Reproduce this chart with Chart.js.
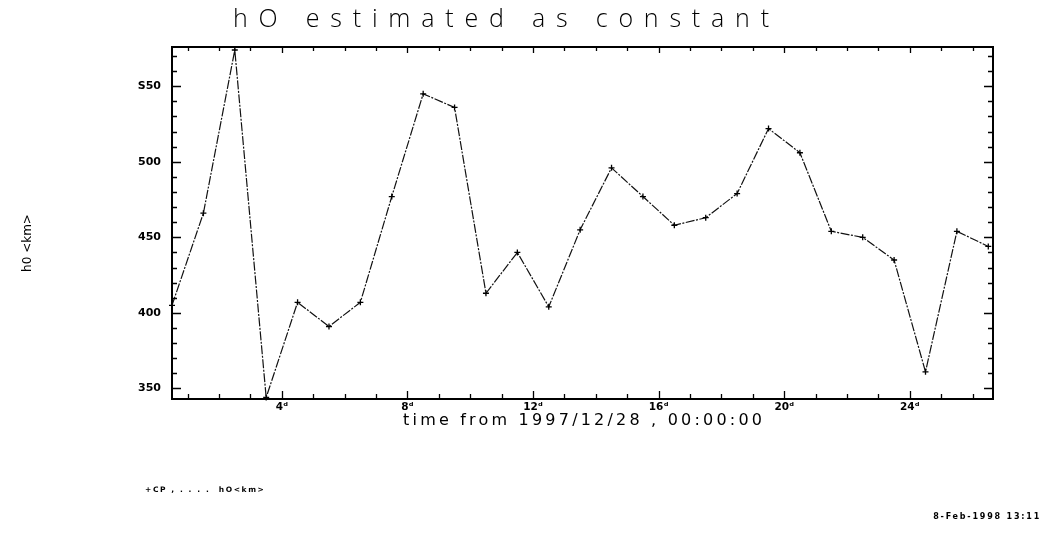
<!DOCTYPE html>
<html>
<head>
<meta charset="utf-8">
<script src="https://cdn.jsdelivr.net/npm/chart.js@4/dist/chart.umd.min.js"></script>
<style>
  html, body { margin: 0; padding: 0; background: #fff; }
  #wrap { width: 1041px; height: 543px; position: relative; }
</style>
</head>
<body>
<div id="wrap"><canvas id="c" width="1041" height="543"></canvas></div>
<script>
// Daily CP estimates of h0, time in days from 1997/12/28 00:00
const days = [0.5, 1.5, 2.5, 3.5, 4.5, 5.5, 6.5, 7.5, 8.5, 9.5, 10.5, 11.5, 12.5, 13.5,
              14.5, 15.5, 16.5, 17.5, 18.5, 19.5, 20.5, 21.5, 22.5, 23.5, 24.5, 25.5, 26.5];
const h0Km = [405, 466, 574, 344, 407, 391, 407, 477, 545, 536, 413, 440, 404, 455,
              496, 477, 458, 463, 479, 522, 506, 454, 450, 435, 361, 454, 444];

const xTickValues = [4, 8, 12, 16, 20, 24];
const xTickLabels = ['4ᵈ', '8ᵈ', '12ᵈ', '16ᵈ', '20ᵈ', '24ᵈ'];
const yTickValues = [350, 400, 450, 500, 550];
const yTickLabels = ['350', '400', '450', '500', 'S50'];

const titleText = 'hO estimated as constant';
const xTitleText = 'time from 1997/12/28 , 00:00:00';
const yTitleText = 'h0 <km>';
const legendText = '+CP , . . . .  hO<km>';
const stampText = '8-Feb-1998 13:11';

// Boxed frame with inward tick marks and the surrounding annotations
const framePlugin = {
  id: 'frame',
  afterDraw(chart) {
    const { ctx, chartArea: a, scales: { x, y } } = chart;
    ctx.save();
    ctx.strokeStyle = '#000';
    ctx.lineWidth = 2;
    ctx.strokeRect(a.left, a.top, a.right - a.left, a.bottom - a.top);

    ctx.lineWidth = 1.3;
    ctx.beginPath();
    for (let d = Math.ceil(x.min); d <= x.max; d++) {
      const px = Math.round(x.getPixelForValue(d)) + 0.5;
      const major = d % 4 === 0;
      const lb = major ? 8 : 5, lt = major ? 6 : 4;
      ctx.moveTo(px, a.bottom); ctx.lineTo(px, a.bottom - lb);
      ctx.moveTo(px, a.top); ctx.lineTo(px, a.top + lt);
    }
    for (let v = Math.ceil(y.min / 10) * 10; v <= y.max; v += 10) {
      const py = Math.round(y.getPixelForValue(v)) + 0.5;
      const len = v % 50 === 0 ? 9 : 5;
      ctx.moveTo(a.left, py); ctx.lineTo(a.left + len, py);
      ctx.moveTo(a.right, py); ctx.lineTo(a.right - len, py);
    }
    ctx.stroke();

    ctx.fillStyle = '#000';
    ctx.textBaseline = 'middle';

    // main heading
    ctx.font = "300 25px 'Open Sans'";
    ctx.letterSpacing = '10.8px';
    ctx.textAlign = 'left';
    ctx.fillText(titleText, 233, 20);

    // x axis title
    ctx.font = "16px 'DejaVu Sans'";
    ctx.letterSpacing = '3.2px';
    ctx.textAlign = 'center';
    ctx.fillText(xTitleText, (a.left + a.right) / 2 + 1.6, 421);

    // y axis title
    ctx.letterSpacing = '0px';
    ctx.font = "12px 'DejaVu Sans'";
    ctx.translate(28, 243);
    ctx.rotate(-Math.PI / 2);
    ctx.fillText(yTitleText, 0, 0);
    ctx.setTransform(1, 0, 0, 1, 0, 0);

    // series key and date stamp
    ctx.font = "bold 7.5px 'DejaVu Sans'";
    ctx.letterSpacing = '1.6px';
    ctx.textAlign = 'left';
    ctx.fillText(legendText, 145, 490);
    ctx.font = "bold 8px 'DejaVu Sans'";
    ctx.letterSpacing = '1.8px';
    ctx.textAlign = 'right';
    ctx.fillText(stampText, 1041, 517);
    ctx.restore();
  }
};

new Chart(document.getElementById('c'), {
  type: 'line',
  data: {
    datasets: [{
      label: 'hO<km>',
      data: days.map((d, i) => ({ x: d, y: h0Km[i] })),
      borderColor: '#111',
      borderWidth: 1.2,
      borderDash: [9, 1.5, 2, 1.5],
      tension: 0,
      pointStyle: 'cross',
      pointRadius: 3,
      pointBorderWidth: 1.3,
      pointBorderColor: '#000',
      fill: false,
      clip: false
    }]
  },
  options: {
    responsive: false,
    animation: false,
    events: [],
    layout: { padding: { left: 0, top: 47, right: 48, bottom: 100 } },
    plugins: { legend: { display: false }, title: { display: false }, tooltip: { enabled: false } },
    scales: {
      x: {
        type: 'linear',
        min: 0.5,
        max: 26.65,
        afterFit: s => { s.height = 44; },
        afterBuildTicks: s => { s.ticks = xTickValues.map(v => ({ value: v })); },
        grid: { display: false, drawTicks: false },
        border: { display: false },
        ticks: {
          autoSkip: false,
          maxRotation: 0,
          padding: 2,
          color: '#000',
          font: { family: 'DejaVu Sans', size: 10.5, weight: 'bold' },
          callback: v => xTickLabels[xTickValues.indexOf(v)] ?? ''
        }
      },
      y: {
        type: 'linear',
        min: 343,
        max: 576,
        afterFit: s => { s.width = 172; },
        afterBuildTicks: s => { s.ticks = yTickValues.map(v => ({ value: v })); },
        grid: { display: false, drawTicks: false },
        border: { display: false },
        ticks: {
          padding: 11,
          color: '#000',
          font: { family: 'DejaVu Sans', size: 11, weight: 'bold' },
          callback: v => yTickLabels[yTickValues.indexOf(v)] ?? ''
        }
      }
    }
  },
  plugins: [framePlugin]
});
</script>
</body>
</html>
